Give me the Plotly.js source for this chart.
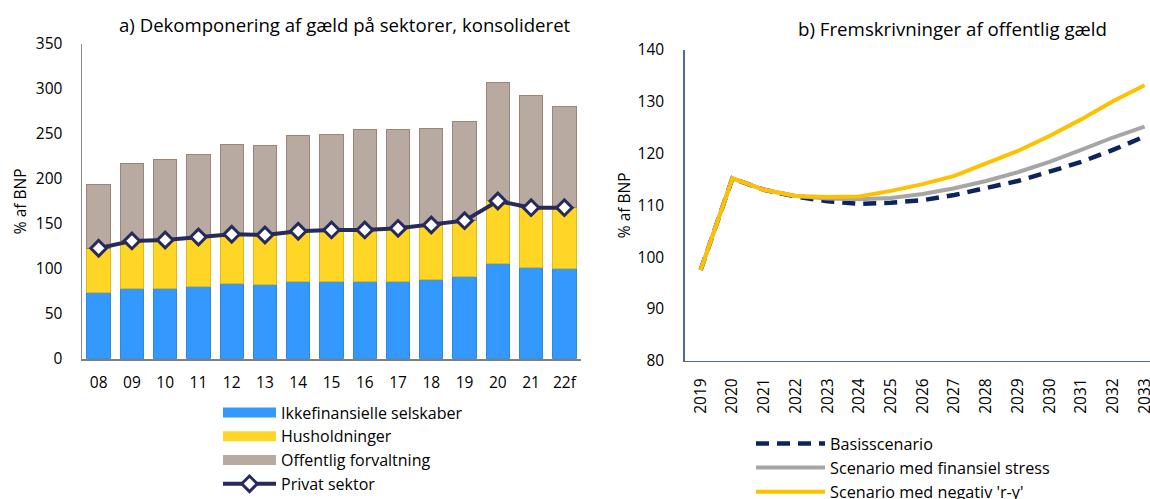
<!DOCTYPE html>
<html>
<head>
<meta charset="utf-8">
<script src="https://cdn.plot.ly/plotly-3.0.1.min.js"></script>
<style>html,body{margin:0;padding:0;background:#fff;}#chart{width:1150px;height:499px;}</style>
</head>
<body>
<div id="chart"></div>
<script>
// Panel a) – debt by sector (% of GDP)
const years_a = ["08","09","10","11","12","13","14","15","16","17","18","19","20","21","22f"];
const ikkefinansielle = [73.4,77.9,78,80,83.4,82,85.6,86.4,85.6,86.4,87.9,90.9,106,101.2,100.5];
const privat = [122.8,131,132,135.4,138.4,137.6,141.7,143.2,143.2,145,148.7,153.5,175.4,168,168];
const total = [194,217,221,227.4,237.7,236.6,248.5,249.6,254.4,254.8,256.2,263.3,306.7,292.7,280.3];
const husholdninger = privat.map((p,i)=>+(p-ikkefinansielle[i]).toFixed(1));
const offentlig = total.map((t,i)=>+(t-privat[i]).toFixed(1));

// Panel b) – projections of public debt
const years_b = ["2019","2020","2021","2022","2023","2024","2025","2026","2027","2028","2029","2030","2031","2032","2033"];
const basis = [97.5,115.2,113,111.7,110.8,110.3,110.5,111,112,113.3,114.7,116.5,118.4,120.7,123.3];
const finansielStress = [97.5,115.2,113,111.8,111.3,111.2,111.4,112.2,113.3,114.7,116.4,118.4,120.7,123.1,125.2];
const negativRY = [97.5,115.2,113,111.8,111.6,111.7,112.8,114.1,115.7,118,120.5,123.4,126.6,130.1,133.2];

const FONT = "'Open Sans', sans-serif";
const C_BLUE = "#3399FF", C_YEL = "#FFD625", C_TAUPE = "#B8A9A1", C_NAVY = "#262B5C";

const traces = [
  {type:"bar", x:years_a, y:ikkefinansielle, name:"Ikkefinansielle selskaber", showlegend:false,
   marker:{color:C_BLUE, line:{color:"#2F86DE", width:1}}, xaxis:"x", yaxis:"y"},
  {type:"bar", x:years_a, y:husholdninger, name:"Husholdninger", showlegend:false,
   marker:{color:C_YEL, line:{color:"#E3B714", width:1}}, xaxis:"x", yaxis:"y"},
  {type:"bar", x:years_a, y:offentlig, name:"Offentlig forvaltning", showlegend:false,
   marker:{color:C_TAUPE, line:{color:"#9C8479", width:1}}, xaxis:"x", yaxis:"y"},
  {type:"scatter", mode:"lines+markers", x:years_a, y:privat, name:"Privat sektor", showlegend:false,
   line:{color:C_NAVY, width:4}, marker:{symbol:"diamond", size:12, color:"#fff", line:{color:C_NAVY, width:3}},
   xaxis:"x", yaxis:"y"},
  // legend proxies for panel a
  {type:"scatter", mode:"lines", x:[null], y:[null], name:"Ikkefinansielle selskaber", legend:"legend",
   line:{color:C_BLUE, width:13}, xaxis:"x", yaxis:"y"},
  {type:"scatter", mode:"lines", x:[null], y:[null], name:"Husholdninger", legend:"legend",
   line:{color:C_YEL, width:13}, xaxis:"x", yaxis:"y"},
  {type:"scatter", mode:"lines", x:[null], y:[null], name:"Offentlig forvaltning", legend:"legend",
   line:{color:C_TAUPE, width:13}, xaxis:"x", yaxis:"y"},
  {type:"scatter", mode:"lines+markers", x:[null], y:[null], name:"Privat sektor", legend:"legend",
   line:{color:C_NAVY, width:4}, marker:{symbol:"diamond", size:12, color:"#fff", line:{color:C_NAVY, width:3}},
   xaxis:"x", yaxis:"y"},
  // panel b
  {type:"scatter", mode:"lines", x:years_b, y:basis, name:"Basisscenario", legend:"legend2",
   line:{color:"#0B2460", width:4.5, dash:"13px,8px"}, xaxis:"x2", yaxis:"y2"},
  {type:"scatter", mode:"lines", x:years_b, y:finansielStress, name:"Scenario med finansiel stress", legend:"legend2",
   line:{color:"#A6A6A6", width:4}, xaxis:"x2", yaxis:"y2"},
  {type:"scatter", mode:"lines", x:years_b, y:negativRY, name:"Scenario med negativ 'r-y'", legend:"legend2",
   line:{color:"#FFC000", width:4}, xaxis:"x2", yaxis:"y2"}
];

const layout = {
  width:1150, height:499,
  margin:{l:0, r:0, t:0, b:0, autoexpand:false},
  paper_bgcolor:"#fff", plot_bgcolor:"#fff",
  font:{family:FONT, size:15.5, color:"#000"},
  barmode:"stack", bargap:0.3,
  showlegend:true,
  xaxis:{domain:[82/1150, 581/1150], type:"category", range:[-0.5,14.5], showgrid:false,
         showline:true, linecolor:"#7F7F7F", linewidth:2, ticks:"", ticklabelstandoff:9,
         tickfont:{size:15.5}, fixedrange:true, zeroline:false},
  yaxis:{domain:[1-358.7/499, 1-44/499], range:[0,350], dtick:50, showgrid:false,
         showline:true, linecolor:"#8C8C8C", linewidth:1.5, ticks:"", ticklabelstandoff:15,
         tickfont:{size:15.5}, zeroline:false,
         title:{text:"% af BNP", font:{size:15.5}, standoff:5}},
  xaxis2:{domain:[684.8/1150, 1], type:"category", range:[-0.5,14.17], showgrid:false,
          showline:true, linecolor:"#4F6A9C", linewidth:1.5, ticks:"", tickangle:-90, ticklabelstandoff:10,
          tickfont:{size:15.5}, anchor:"y2", zeroline:false},
  yaxis2:{domain:[1-360.7/499, 1-50/499], range:[80,140], dtick:10, showgrid:false,
          showline:true, linecolor:"#4F6A9C", linewidth:1.5, ticks:"", ticklabelstandoff:16,
          tickfont:{size:15.5}, anchor:"x2", zeroline:false,
          title:{text:"% af BNP", font:{size:15.5}, standoff:3}},
  legend:{x:218/1150, xanchor:"left", y:1-395.5/499, yanchor:"top", bgcolor:"rgba(0,0,0,0)",
          font:{size:16}, itemwidth:53, tracegroupgap:0, traceorder:"normal"},
  legend2:{x:751/1150, xanchor:"left", y:1-426.5/499, yanchor:"top", bgcolor:"rgba(0,0,0,0)",
          font:{size:16.2}, itemwidth:69, tracegroupgap:0, traceorder:"normal"},
  annotations:[
    {text:"a) Dekomponering af gæld på sektorer, konsolideret", xref:"paper", yref:"paper",
     x:345/1150, y:1-24/499, xanchor:"center", yanchor:"middle", showarrow:false, font:{size:18.6}},
    {text:"b) Fremskrivninger af offentlig gæld", xref:"paper", yref:"paper",
     x:952/1150, y:1-28/499, xanchor:"center", yanchor:"middle", showarrow:false, font:{size:18.7}}
  ]
};

Plotly.newPlot("chart", traces, layout, {displayModeBar:false, staticPlot:true});
</script>
</body>
</html>
